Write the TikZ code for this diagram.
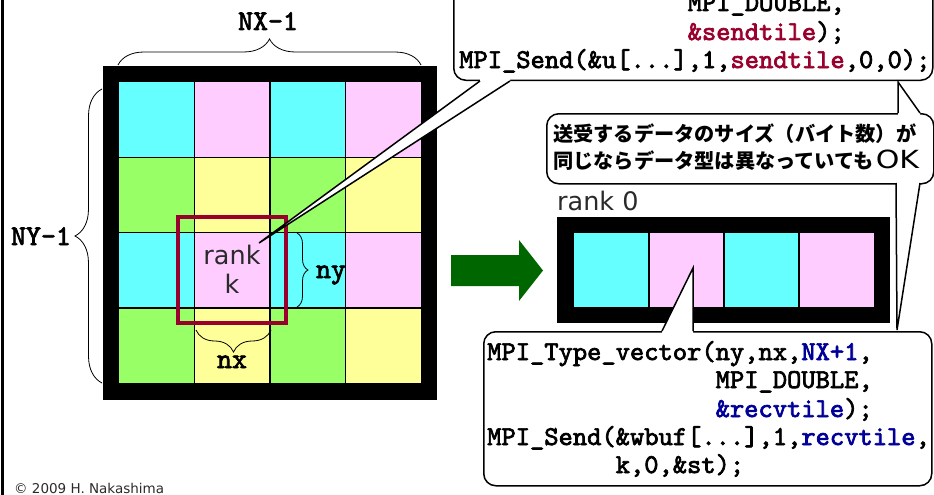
\documentclass[tikz,border=0pt]{standalone}
\usepackage{fontspec}
\usetikzlibrary{decorations.pathreplacing}
\setmainfont{DejaVu Sans}
\newfontface\codefont{lmmono10-regular.otf}[FakeBold=2.6]
\newfontface\okfont{DejaVu Sans}[FakeStretch=1.2]
\newfontfamily\jpfont{Noto Sans CJK JP}

\definecolor{tcyan}{HTML}{66FFFF}
\definecolor{tpink}{HTML}{FFCCFF}
\definecolor{tgreen}{HTML}{99FF66}
\definecolor{tyellow}{HTML}{FFFF99}
\definecolor{tred}{HTML}{99002E}
\definecolor{tblue}{HTML}{000099}
\definecolor{arrowgreen}{HTML}{006600}
\definecolor{tgrey}{HTML}{2A2A2A}

\tikzset{
  codetext/.style={anchor=base west, inner sep=0pt, font=\codefont\fontsize{27.2}{28}\selectfont},
  dimlabel/.style={anchor=base, inner sep=0pt, font=\codefont\fontsize{28.5}{30}\selectfont},
  ranklabel/.style={anchor=base, inner sep=0pt, text=tgrey, font=\fontsize{25.5}{28}\selectfont},
  jptext/.style={anchor=base west, inner sep=0pt, font=\jpfont\bfseries\fontsize{20.2}{26}\selectfont},
  bubble/.style={draw=black, fill=white, line width=1.5pt, rounded corners=12pt, inner sep=0pt},
  tailline/.style={draw=black, line width=1.5pt, line join=miter},
  bracket/.style={decorate, decoration={brace, amplitude=#1}, line width=0.8pt, black},
  gridline/.style={black, line width=1.5pt},
}

\begin{document}
\begin{tikzpicture}[x=1pt, y=-1pt]
\useasboundingbox (0,0) rectangle (934,495);
\clip (0,0) rectangle (934,495);

% slide frame edge
\draw[line width=3pt] (2.5,0) -- (2.5,495);

% ---- global array split into 4x4 tiles ----
\fill[black] (103,66) rectangle (437,400);
\foreach \j/\ca/\cb in {0/tcyan/tpink,1/tgreen/tyellow,2/tcyan/tpink,3/tgreen/tyellow}
  \foreach \i/\c in {0/\ca,1/\cb,2/\ca,3/\cb}
    \fill[\c] ({119+75.5*\i},{82+75.25*\j}) rectangle ({119+75.5*(\i+1)},{82+75.25*(\j+1)});
\foreach \i in {1,2,3} {
  \draw[gridline] ({119+75.5*\i},82) -- ({119+75.5*\i},383);
  \draw[gridline] (119,{82+75.25*\i}) -- (421,{82+75.25*\i});
}

% tile of rank k with its halo
\node[draw=tred, line width=3.5pt, minimum width=108pt, minimum height=106pt, inner sep=0pt] (tile) at (232,270) {};
\node[ranklabel] (rankk) at (232,264) {rank};
\node[ranklabel] (rankkid) at (232,293) {k};
\coordinate (ktip) at (259,243);

% dimension braces
\draw[bracket=26pt] (118,65) -- (421,65);
\node[dimlabel] (nxall) at (268,30) {NX-1};
\draw[bracket=27pt] (102,383) -- (102,89);
\node[dimlabel] (nyall) at (41,245) {NY-1};
\draw[bracket=11pt] (297,233) -- (297,307);
\node[dimlabel] (nylab) at (331,278) {ny};
\draw[bracket=22pt] (271,330) -- (196,330);
\node[dimlabel] (nxlab) at (232,368) {nx};

% ---- receive buffer on rank 0 ----
\node[anchor=base west, inner sep=0pt, text=tgrey, font=\fontsize{25.5}{28}\selectfont] (rank0) at (557,210) {rank 0};
\fill[black] (557,217) rectangle (890,323);
\foreach \i/\c in {0/tcyan,1/tpink,2/tcyan,3/tpink}
  \fill[\c] ({574+75*\i},233) rectangle ({574+75*(\i+1)},307);
\foreach \i in {1,2,3}
  \draw[gridline] ({574+75*\i},233) -- ({574+75*\i},307);
\coordinate (bufpink) at (693,268);

% transfer arrow
\fill[arrowgreen] (451,255) -- (519,255) -- (519,240) -- (543,270.5) -- (519,301) -- (519,286) -- (451,286) -- cycle;

% ---- callout: send side ----
\node[bubble, minimum width=479pt, minimum height=120pt, anchor=south west] (sendbox) at (453,81) {};
\fill[white] (480,78) -- (480,81) -- (ktip) -- (510,81) -- (510,78) -- cycle;
\draw[tailline] (480,81) -- (ktip) -- (510,81);
\node[codetext] (s1) at (687.5,11) {MPI\_DOUBLE,};
\node[codetext] (s2) at (687.5,40) {\textcolor{tred}{\&sendtile});};
\node[codetext] (s3) at (459,68) {MPI\_Send(\&u[...],1,\textcolor{tred}{sendtile},0,0);};

% ---- callout: note linking both sides ----
\node[bubble, minimum width=387pt, minimum height=70pt, anchor=north west] (notebox) at (546,113) {};
\coordinate (uptip) at (898,82);
\coordinate (downtip) at (897,330);
\fill[white] (898,116) -- (898,113) -- (uptip) -- (920,113) -- (920,116) -- cycle;
\draw[tailline] (898,113) -- (uptip) -- (920,113);
\fill[white] (896,180) -- (896,183) -- (downtip) -- (920,183) -- (920,180) -- cycle;
\draw[tailline] (896,183) -- (downtip) -- (920,183);
\node[jptext] (n1) at (553,141) {送受するデータのサイズ（バイト数）が};
\node[jptext] (n2) at (553,168) {同じならデータ型は異なっていても\hspace{2pt}{\okfont\fontsize{25}{26}\selectfont OK}};

% ---- callout: receive side ----
\node[bubble, minimum width=448pt, minimum height=154pt, anchor=north west] (recvbox) at (483,331) {};
\fill[white] (662,334) -- (662,331) -- (bufpink) -- (693,331) -- (693,334) -- cycle;
\draw[tailline] (662,331) -- (bufpink) -- (693,331);
\node[codetext] (r1) at (487,360) {MPI\_Type\_vector(ny,nx,\textcolor{tblue}{NX+1},};
\node[codetext] (r2) at (715.5,388) {MPI\_DOUBLE,};
\node[codetext] (r3) at (715.5,417) {\textcolor{tblue}{\&recvtile});};
\node[codetext] (r4) at (487,445) {MPI\_Send(\&wbuf[...],1,\textcolor{tblue}{recvtile},};
\node[codetext] (r5) at (615.5,473) {k,0,\&st);};

% credit line
\node[anchor=base west, inner sep=0pt, text=tgrey, font=\fontsize{13.5}{16}\selectfont] (credit) at (14,493) {© 2009 H. Nakashima};
\end{tikzpicture}
\end{document}
